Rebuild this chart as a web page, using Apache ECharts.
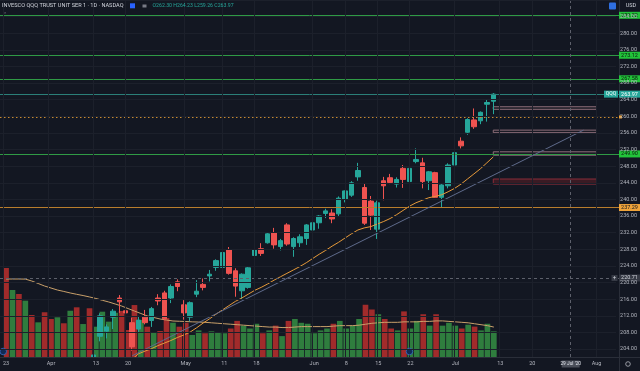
<!DOCTYPE html>
<html><head><meta charset="utf-8">
<script src="https://cdn.jsdelivr.net/npm/echarts@6/dist/echarts.min.js"></script>
<style>html,body{margin:0;padding:0;background:#131722;}#c{width:640px;height:371px;}</style>
</head><body><div id="c"></div>
<script>
// ---------- data ----------
const categories = ['Mar 23','Mar 24','Mar 25','Mar 26','Mar 27','Mar 30','Mar 31','Apr 1','Apr 2','Apr 3','Apr 6','Apr 7','Apr 8','Apr 9','Apr 13','Apr 14','Apr 15','Apr 16','Apr 17','Apr 20','Apr 21','Apr 22','Apr 23','Apr 24','Apr 27','Apr 28','Apr 29','Apr 30','May 1','May 4','May 5','May 6','May 7','May 8','May 11','May 12','May 13','May 14','May 15','May 18','May 19','May 20','May 21','May 22','May 26','May 27','May 28','May 29','Jun 1','Jun 2','Jun 3','Jun 4','Jun 5','Jun 8','Jun 9','Jun 10','Jun 11','Jun 12','Jun 15','Jun 16','Jun 17','Jun 18','Jun 19','Jun 22','Jun 23','Jun 24','Jun 25','Jun 26','Jun 29','Jun 30','Jul 1','Jul 2','Jul 6','Jul 7','Jul 8','Jul 9','Jul 10','Jul 13','Jul 14','Jul 15','Jul 16','Jul 17','Jul 20','Jul 21','Jul 22','Jul 23','Jul 24','Jul 27','Jul 28','Jul 29','Jul 30','Jul 31','Aug 3','Aug 4','Aug 5','Aug 6'];

const opens  = [170.0,172.0,178.0,176.0,178.0,178.9,183.9,179.0,175.8,178.6,181.6,196.0,192.0,198.5,197.5,207.0,208.2,211.5,216.0,213.0,210.2,208.7,211.5,210.7,216.0,217.2,216.0,219.8,214.4,211.5,216.9,219.2,221.2,223.2,223.2,227.3,222.4,217.7,218.5,226.0,227.6,229.0,231.4,228.1,233.2,228.1,229.0,230.0,232.0,233.7,235.9,236.0,235.8,239.2,240.2,244.5,242.0,238.8,232.2,243.6,244.3,242.8,246.5,243.4,248.1,247.8,243.6,245.5,239.7,242.4,247.3,252.9,255.0,257.9,257.7,261.6,262.30];
const highs  = [172.5,177.0,181.3,182.5,181.7,184.0,186.9,180.5,179.6,179.5,190.0,197.0,196.6,199.5,202.9,212.4,209.8,213.4,216.7,215.4,211.4,211.8,213.2,213.9,216.9,217.7,219.2,220.4,215.5,215.2,220.2,220.6,222.6,225.1,227.7,228.0,223.0,221.8,223.3,228.9,228.9,231.4,232.5,229.9,233.6,230.3,231.0,233.4,234.0,235.5,237.0,236.9,239.9,241.3,243.5,247.8,242.9,240.0,238.9,244.5,245.2,244.4,247.3,246.7,251.2,249.0,245.9,245.7,242.8,247.7,250.7,253.8,258.3,260.6,259.9,262.6,264.23];
const lows   = [164.9,170.5,172.7,175.6,176.3,178.3,181.5,175.5,174.6,174.5,181.2,189.0,191.0,194.9,196.3,205.8,206.5,208.7,212.5,211.9,203.6,207.9,209.8,209.2,214.3,210.8,214.8,217.6,210.9,210.5,216.2,217.8,219.9,222.4,222.7,221.5,216.3,215.8,218.2,224.9,225.9,228.8,227.6,227.2,228.3,225.7,228.0,228.5,231.2,232.3,234.8,233.6,235.2,238.5,239.8,243.6,233.2,232.0,229.9,239.0,242.8,242.0,241.9,242.1,247.7,241.8,241.4,239.6,237.29,241.8,246.8,251.2,254.4,255.8,256.9,257.5,259.26];
const closes = [165.9,176.8,175.8,182.1,177.7,183.6,182.0,175.9,179.2,176.9,189.5,189.4,196.1,196.9,202.6,211.8,209.2,212.9,215.1,212.5,204.5,210.8,210.2,213.5,215.3,211.1,218.7,218.7,212.5,214.9,217.6,218.5,221.6,224.8,226.7,221.8,218.8,221.6,223.1,227.3,226.5,231.1,228.5,229.5,228.7,230.0,230.4,233.2,233.7,235.3,236.5,234.6,239.5,241.2,243.1,246.0,233.6,235.5,238.4,242.4,243.2,243.9,243.9,246.5,248.6,243.4,245.7,239.7,242.6,247.3,250.2,251.8,258.0,256.3,259.7,262.0,263.97];

const volumes = [93.7,70.5,66.3,59.3,44.2,36.5,47.1,40.0,41.8,35.5,48.7,52.3,34.7,51.3,31.9,47.7,37.2,46.6,48.4,28.4,54.7,39.0,31.9,25.3,27.4,41.0,36.1,31.9,36.1,23.2,28,25,27,26,25,30,38,33,30,35,25,28,33,22,38,40,36,35,25,28,30,35,38,30,33,40,55,50,45,40,30,28,48,30,38,45,33,45,33,36,33,30,34,32,28,35,27];
const volumeMA = [82.1,82.1,82.1,82.0,80.0,77.4,74.7,72.6,70.5,69.0,67.4,66.0,64.7,63.2,61.6,59.7,57.9,55.8,53.7,51.0,48.4,45.8,43.2,41.6,40.0,38.9,37.9,37.6,37.4,37.0,36.8,36.5,36.0,35.5,35.0,34.5,34.0,33.5,33.0,32.5,32.0,31.5,31.5,31.0,31.0,31.5,32.0,32.0,32.0,32.0,32.0,32.5,33.0,33.0,33.0,33.5,34.5,35.5,36.0,36.5,36.5,36.5,37.0,37.0,37.0,37.5,37.5,38.0,38.0,37.5,37.0,36.5,36.0,35.0,34.0,33.0,31.5];
const priceMA = [null,null,null,null,null,null,null,null,null,null,null,null,null,null,null,null,null,null,null,null,201.6,202.9,203.5,204.1,204.8,205.4,206.0,206.7,207.3,208.0,209.0,210.1,211.1,212.2,213.2,214.2,215.2,216.0,216.9,217.8,218.5,219.3,220.2,221.0,221.8,222.6,223.4,224.3,225.3,226.3,227.2,228.2,229.1,230.1,231.1,232.0,232.5,232.8,233.4,234.0,234.7,235.6,236.6,237.6,238.4,239.0,239.6,239.9,240.3,241.0,241.8,242.8,244.0,245.2,246.4,247.8,249.2];

const timeTickDates = ['Mar 23','Apr 1','Apr 13','Apr 20','May 1','May 11','May 18','Jun 1','Jun 8','Jun 15','Jun 22','Jul 1','Jul 13','Jul 20','Aug 3'];
const timeTickText  = ['23','Apr','13','20','May','11','18','Jun','8','15','22','Jul','13','20','Aug'];

const greenLevels = [282.52, 273.12, 267.58, 249.90];
const lastPrice = 263.97;
const alertLevel = 258.6;
const supportLevel = 237.29;
const crossPrice = 220.71;
const crossDate = 'Jul 28';
const crossDateText = "29 Jul '20";
const boxTops    = [261.0, 255.5, 250.4, 244.0];
const boxBottoms = [260.4, 254.9, 249.6, 242.8];
const boxStart = 'Jul 10', boxEnd = 'Aug 3';
const trendStart = ['Apr 21', 202.4], trendEnd = ['Jul 30', 255.5];
const dividendDates = ['Mar 23','Jun 22'];
const titleText = 'INVESCO QQQ TRUST UNIT SER 1 · 1D · NASDAQ';
const ohlcText = 'O262.30 H264.23 L259.26 C263.97';

// ---------- style ----------
const BG='#131722', UP='#26a69a', DN='#ef5350', VUP='#2f7d3e', VDN='#a12b2b';
const GRID='#1c202b', AXT='#b2b5be', FONT='Roboto, sans-serif';
const PMIN=202.12, PMAX=286.12;

const chart = echarts.init(document.getElementById('c'));
const candleData = opens.map((o,i)=>[o, closes[i], lows[i], highs[i]]);
const volData = volumes.map((v,i)=>({value:v, itemStyle:{color: closes[i]>=opens[i]?VUP:VDN}}));

const hLineData = [];
greenLevels.forEach(v=>hLineData.push({yAxis:v, lineStyle:{color:'#2f9a45', width:1, type:'solid'}}));
hLineData.push({yAxis:lastPrice, lineStyle:{color:'#2b7f78', width:1, type:'solid'}});
hLineData.push({yAxis:alertLevel, lineStyle:{color:'#c98a30', width:1, type:[1.5,2.5]}});
hLineData.push({yAxis:supportLevel, lineStyle:{color:'#b97d2c', width:1, type:'solid'}});
hLineData.push({yAxis:crossPrice, lineStyle:{color:'#5d606b', width:1, type:[3,3]}});
timeTickDates.forEach(d=>hLineData.push({xAxis:d, lineStyle:{color:GRID, width:1, type:'solid'}}));
hLineData.push({xAxis:crossDate, lineStyle:{color:'#5d606b', width:1, type:[3,3]}});
hLineData.push([{coord:trendStart, lineStyle:{color:'#5f6b8c', width:1, type:'solid'}},{coord:trendEnd, lineStyle:{color:'#5f6b8c', width:1, type:'solid'}}]);

const boxData = boxTops.map((t,i)=>[
  {xAxis:boxStart, yAxis:t, itemStyle: i<3 ? {color:'#1a1a24', borderColor:'#8e6f7a', borderWidth:1} : {color:'#3a1b24', borderColor:'#8a2d38', borderWidth:1}},
  {xAxis:boxEnd, yAxis:boxBottoms[i]}
]);

const option = {
  backgroundColor: BG,
  animation: false,
  grid: [
    {left:0, right:21, top:0, bottom:14},
    {left:0, right:21, top:262, bottom:14},
    {left:0, right:21, top:-8, height:357}
  ],
  xAxis: [
    {type:'category', gridIndex:0, data:categories, show:false},
    {type:'category', gridIndex:1, data:categories, boundaryGap:true, z:200,
      axisLine:{show:false}, axisTick:{show:false}, splitLine:{show:false},
      axisLabel:{color:AXT, fontSize:5.5, fontFamily:FONT, margin:4,
        interval:(i,v)=>timeTickDates.indexOf(v)>=0,
        formatter:(v)=>{const k=timeTickDates.indexOf(v);return k>=0?timeTickText[k]:'';}}},
    {type:'category', gridIndex:2, data:categories, show:false}
  ],
  yAxis: [
    {type:'value', gridIndex:0, min:PMIN, max:PMAX, show:false},
    {type:'value', gridIndex:1, min:0, max:100, show:false},
    {type:'value', gridIndex:2, min:204, max:288, interval:4, position:'right', z:200,
      axisLine:{show:false}, axisTick:{show:false},
      splitLine:{show:true, lineStyle:{color:GRID, width:1}},
      axisLabel:{color:AXT, fontSize:5.5, fontFamily:FONT, margin:4,
        formatter:(v)=> v>=288 ? '' : v.toFixed(2)}}
  ],
  series: [
    {type:'bar', xAxisIndex:1, yAxisIndex:1, data:volData, barCategoryGap:'12%', z:1, silent:true},
    {type:'line', xAxisIndex:1, yAxisIndex:1, data:volumeMA, showSymbol:false, z:2, silent:true,
      lineStyle:{color:'#c9a06a', width:1}},
    {type:'candlestick', xAxisIndex:0, yAxisIndex:0, data:candleData, barWidth:5, z:3, silent:true,
      itemStyle:{color:UP, color0:DN, borderColor:UP, borderColor0:DN, borderWidth:1},
      markLine:{silent:true, symbol:['none','none'], label:{show:false}, animation:false, data:hLineData},
      markArea:{silent:true, label:{show:false}, data:boxData}},
    {type:'line', xAxisIndex:0, yAxisIndex:0, data:priceMA, showSymbol:false, z:4, silent:true,
      lineStyle:{color:'#e69a3a', width:1}}
  ]
};
chart.setOption(option);

// ---------- overlay decorations (labels of the price / time scales, header) ----------
const py = v => chart.convertToPixel({yAxisIndex:0}, v);
const px = d => chart.convertToPixel({xAxisIndex:0}, d);
const g = [];
function tag(v, text, bg, fg){
  const y = py(v);
  g.push({type:'rect', z:150, shape:{x:619, y:y-3.5, width:21, height:7}, style:{fill:bg}});
  g.push({type:'text', z:151, x:629.5, y:y, style:{text:text, fill:fg, fontSize:5.5, fontFamily:FONT, align:'center', verticalAlign:'middle'}});
}
// time-scale strip covers anything below the price pane
g.push({type:'rect', z:90, shape:{x:0, y:357.5, width:640, height:14}, style:{fill:BG}});
g.push({type:'line', z:95, shape:{x1:619.5, y1:0, x2:619.5, y2:371}, style:{stroke:'#2a2e39', lineWidth:1}});
g.push({type:'line', z:95, shape:{x1:0, y1:357.5, x2:640, y2:357.5}, style:{stroke:'#2a2e39', lineWidth:1}});
greenLevels.forEach(v=>tag(v, v.toFixed(2), '#22c33a', '#0b1a0e'));
tag(lastPrice, lastPrice.toFixed(2), UP, '#ffffff');
const ly = py(lastPrice);
g.push({type:'rect', z:150, shape:{x:604, y:ly-3.5, width:14, height:7}, style:{fill:UP}});
g.push({type:'text', z:151, x:611, y:ly, style:{text:'QQQ', fill:'#ffffff', fontSize:5, fontFamily:FONT, align:'center', verticalAlign:'middle'}});
tag(supportLevel, supportLevel.toFixed(2), '#f0a43a', '#131722');
tag(crossPrice, crossPrice.toFixed(2), '#363a45', '#d1d4dc');
const cy = py(crossPrice);
g.push({type:'rect', z:150, shape:{x:611.5, y:cy-3, width:6, height:6}, style:{fill:'#363a45'}});
g.push({type:'text', z:151, x:614.5, y:cy, style:{text:'+', fill:'#d1d4dc', fontSize:6, fontFamily:FONT, align:'center', verticalAlign:'middle'}});
const ay = py(alertLevel);
g.push({type:'rect', z:150, shape:{x:619, y:ay-1.5, width:3, height:3}, style:{fill:'#f0a43a'}});
// time crosshair label
const cx = px(crossDate);
g.push({type:'rect', z:250, shape:{x:cx-9, y:360.5, width:18, height:7}, style:{fill:'#4a4e59'}});
g.push({type:'text', z:251, x:cx, y:364, style:{text:crossDateText, fill:'#e0e3eb', fontSize:4.8, fontFamily:FONT, align:'center', verticalAlign:'middle'}});
// dividend markers
dividendDates.forEach(d=>{
  g.push({type:'circle', z:150, shape:{cx:px(d), cy:351.5, r:3.3}, style:{fill:'#102a55', stroke:'#3a6cc4', lineWidth:0.8}});
});
// header
g.push({type:'text', z:151, x:2, y:6, style:{text:titleText, fill:'#d1d4dc', fontSize:5.6, fontFamily:FONT, align:'left', verticalAlign:'middle'}});
g.push({type:'rect', z:151, shape:{x:130, y:3.3, width:5, height:5}, style:{fill:'#2962ff'}});
g.push({type:'rect', z:151, shape:{x:142.5, y:4.5, width:4, height:3}, style:{fill:'#787b86'}});
g.push({type:'text', z:151, x:152.5, y:6, style:{text:ohlcText, fill:UP, fontSize:5.2, fontFamily:FONT, align:'left', verticalAlign:'middle'}});
g.push({type:'text', z:151, x:3, y:15, style:{text:'⌃', fill:'#787b86', fontSize:5, fontFamily:FONT, align:'left', verticalAlign:'middle'}});
g.push({type:'rect', z:151, shape:{x:609, y:2.5, width:7, height:7, r:1}, style:{fill:'#2f6fe0'}});
g.push({type:'text', z:151, x:631, y:6, style:{text:'USD', fill:'#d1d4dc', fontSize:5.5, fontFamily:FONT, align:'center', verticalAlign:'middle'}});
g.push({type:'circle', z:251, shape:{cx:628, cy:364, r:2.3}, style:{fill:'none', stroke:'#b2b5be', lineWidth:0.8}});
chart.setOption({graphic: g});
</script></body></html>
